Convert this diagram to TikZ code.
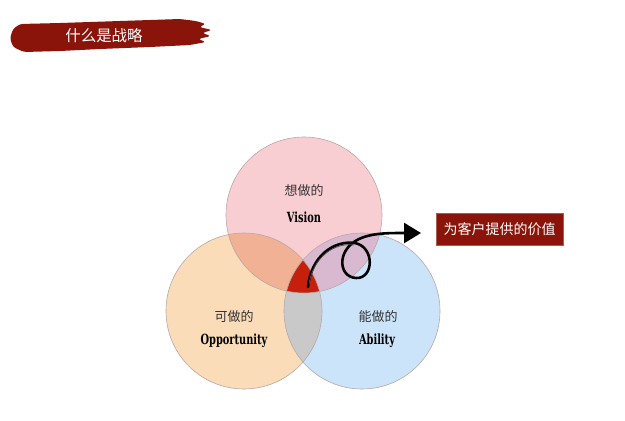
\documentclass[tikz,border=0pt]{standalone}
\usepackage{fontspec}
\newfontfamily\cjk{Noto Sans CJK SC}
\newfontfamily\latinbold{DejaVu Serif Condensed}[BoldFont={DejaVu Serif Condensed Bold}]
\usetikzlibrary{arrows.meta}
\definecolor{cpink}{HTML}{F9CED2}
\definecolor{cpeach}{HTML}{FBDCB8}
\definecolor{cblue}{HTML}{CCE4FA}
\definecolor{ctl}{HTML}{F1B195}
\definecolor{ctr}{HTML}{D9B9CF}
\definecolor{clr}{HTML}{C9C9C9}
\definecolor{ccore}{HTML}{C6200C}
\definecolor{cedge}{HTML}{B8A8A8}
\definecolor{cdark}{HTML}{8A1409}
\tikzset{
  cjklabel/.style={font=\cjk\fontsize{13}{13}\selectfont, text=black!80},
  enlabel/.style={font=\latinbold\bfseries\fontsize{14}{14}\selectfont, text=black, xscale=0.78},
  brush/.style={line width=2.6pt, black, line cap=round},
  ringline/.style={draw=cedge, line width=0.6pt},
  valuebox/.style={fill=cdark, draw=cdark!70, text=white, font=\cjk\fontsize{14}{14}\selectfont, minimum width=127pt, minimum height=32pt, inner sep=0pt},
}
\begin{document}
\begin{tikzpicture}[x=1pt,y=-1pt]
\useasboundingbox (0,0) rectangle (625,421);
\fill[white] (0,0) rectangle (625,421);
% title banner
\fill[cdark, rounded corners=3pt] (20,24) -- (60,23) -- (120,21) -- (180,19) -- (196,21) -- (206,24) -- (199,27) -- (212,30) -- (202,33) -- (211,36) -- (198,39) -- (206,42) -- (190,45) -- (150,47) -- (100,49) -- (60,51) -- (24,52) -- (13,47) -- (10,38) -- (13,29) -- cycle;
\node[font=\cjk\fontsize{15.5}{16}\selectfont, text=white] (title) at (104,36) {什么是战略};
% circles
\def\cV{(304,215) circle [radius=78pt]}
\def\cO{(244,311) circle [radius=78pt]}
\def\cA{(362,311) circle [radius=78pt]}
\fill[cpink] \cV;
\fill[cpeach] \cO;
\fill[cblue] \cA;
\begin{scope}\clip \cV; \fill[ctl] \cO; \end{scope}
\begin{scope}\clip \cV; \fill[ctr] \cA; \end{scope}
\begin{scope}\clip \cO; \fill[clr] \cA; \end{scope}
\begin{scope}\clip \cV; \clip \cO; \fill[ccore] \cA; \end{scope}
\draw[ringline] \cV;
\draw[ringline] \cO;
\draw[ringline] \cA;
% labels
\node[cjklabel] (vcn) at (304,191) {想做的};
\node[enlabel] (ven) at (304,217) {Vision};
\node[cjklabel] (ocn) at (234,317) {可做的};
\node[enlabel] (oen) at (234,341) {Opportunity};
\node[cjklabel] (acn) at (378,317) {能做的};
\node[enlabel] (aen) at (377,341) {Ability};
% value box
\node[valuebox] (value) at (499.5,229) {为客户提供的价值};
% arrow
\coordinate (start) at (308,287);
\coordinate (tip) at (421,233);
\draw[brush, -{Triangle[length=17pt,width=20pt]}] (start) .. controls (311,256) and (334,240) .. (355,243) .. controls (375,247) and (374,279) .. (356,278) .. controls (337,277) and (336,246) .. (364,237) .. controls (376,233) and (390,233) .. (404,233) -- (tip);
\draw[line width=0.8pt, black!70] (309,284) .. controls (313,257) and (335,242) .. (354,245);
\end{tikzpicture}
\end{document}
